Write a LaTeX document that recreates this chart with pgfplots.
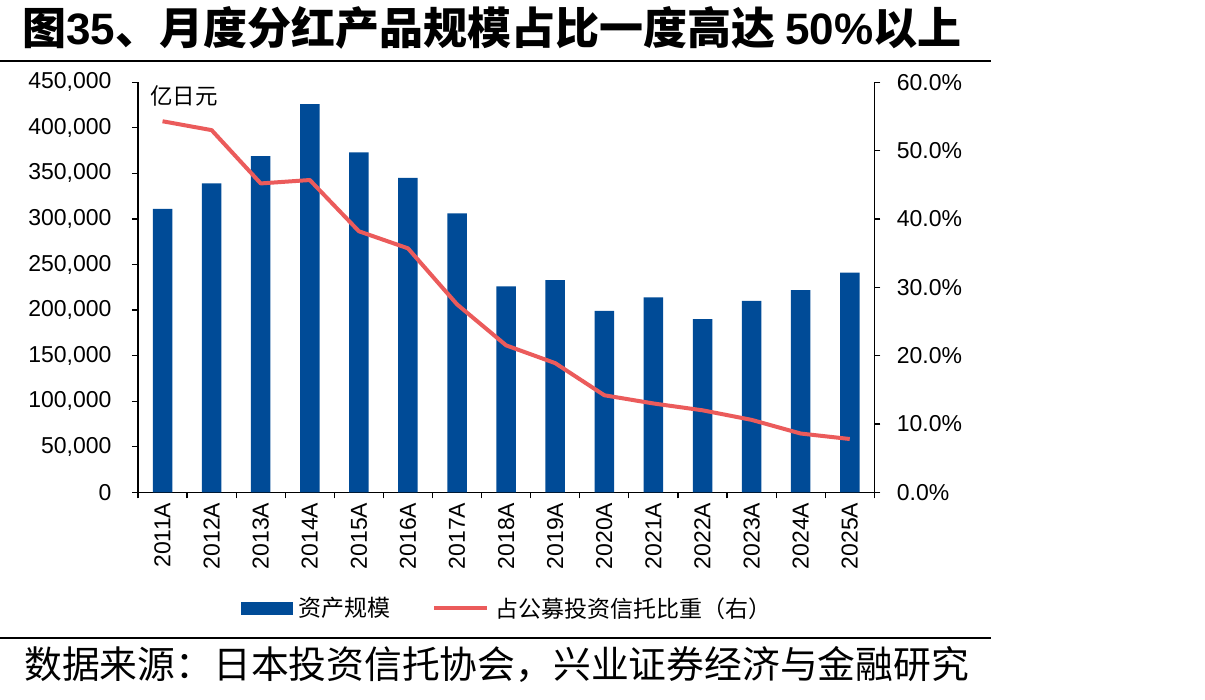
\documentclass[border=0pt]{standalone}
\usepackage{pgfplots}
\pgfplotsset{compat=1.18}
\usepackage{pgfplotstable}
\usepackage{fontspec}
\setmainfont{Liberation Sans}
\newfontfamily\cjk{Noto Sans CJK SC}

\definecolor{barblue}{HTML}{004B97}
\definecolor{linered}{HTML}{EB5B5B}

% Fund assets (100 million yen) and share of public investment trusts (%)
\pgfplotstableread{
idx year  assets share
0   2011A 311000 54.3
1   2012A 339000 53.0
2   2013A 369000 45.2
3   2014A 426000 45.7
4   2015A 373000 38.2
5   2016A 345000 35.7
6   2017A 306000 27.5
7   2018A 226000 21.5
8   2019A 233000 18.9
9   2020A 199000 14.2
10  2021A 214000 13.0
11  2022A 190000 12.0
12  2023A 210000 10.6
13  2024A 222000 8.6
14  2025A 241000 7.8
}\datatable

\newcommand{\tickfont}{\fontsize{23}{27}\selectfont}

\begin{document}
\begin{tikzpicture}[x=1pt,y=1pt]
\useasboundingbox (0,0) rectangle (1205,699);

% title and rules
\node[anchor=base west, inner sep=0pt, font=\cjk\bfseries\fontsize{44}{48}\selectfont]
  at (22,654) {图{\rmfamily\bfseries 35}、月度分红产品规模占比一度高达 {\rmfamily\bfseries 50\%}以上};
\draw[line width=2pt] (0,637.5) -- (991,637.5);
\draw[line width=2pt] (0,61) -- (991,61);
\node[anchor=base west, inner sep=0pt, font=\cjk\fontsize{37.8}{42}\selectfont]
  at (24,20) {数据来源：日本投资信托协会，兴业证券经济与金融研究};

\pgfplotsset{
  base/.style={
    at={(138pt,206.7pt)}, anchor=south west,
    scale only axis, width=736.3pt, height=410pt,
    xmin=-0.5, xmax=14.5,
    ymin=0,
    tick align=outside,
    major tick length=6pt, minor tick length=6pt,
    every tick/.style={black, line width=1.2pt},
    axis line style={black, line width=1.2pt},
    tick label style={font=\tickfont, black},
    /pgf/number format/assume math mode=true,
    clip=false,
  }
}

% bars: assets on the left axis
\begin{axis}[base,
  axis y line*=left, axis x line*=bottom,
  ymax=450000,
  ytick={0,50000,...,450000},
  scaled y ticks=false,
  yticklabel style={xshift=-17pt, /pgf/number format/.cd, fixed, 1000 sep={,}},
  xtick={0,...,14},
  xticklabels from table={\datatable}{year},
  major x tick style={draw=none},
  minor xtick={-0.5,0.5,...,14.5},
  xticklabel style={rotate=90, anchor=east, xshift=-1pt},
]
\addplot[ybar, bar width=19.5pt, fill=barblue, draw=none] table[x=idx, y=assets] {\datatable};
\node[anchor=west, inner sep=0pt, font=\cjk\fontsize{22.5}{26}\selectfont]
  at (axis description cs:0.0163,0.967) {亿日元};
\end{axis}

% line: share on the right axis
\begin{axis}[base,
  axis y line*=right, axis x line=none,
  ymax=60,
  ytick={0,10,...,60},
  yticklabel style={xshift=13pt},
  yticklabel={\pgfmathprintnumber[fixed, fixed zerofill, precision=1]{\tick}\%},
  legend columns=2,
  legend style={at={(axis description cs:0.501,-0.282)}, anchor=center,
    draw=none, fill=none, font=\cjk\fontsize{23}{27}\selectfont,
    /tikz/every odd column/.append style={column sep=4pt},
    /tikz/every even column/.append style={column sep=40pt}},
]
\addlegendimage{legend image code/.code={\fill[barblue] (0pt,-6pt) rectangle (51pt,6pt);}}
\addlegendentry{资产规模}
\addplot[linered, line width=4pt, line join=round,
  legend image code/.code={\draw[linered, line width=4pt] (0pt,0pt) -- (53pt,0pt);}]
  table[x=idx, y=share] {\datatable};
\addlegendentry{占公募投资信托比重（右）}
\end{axis}
\end{tikzpicture}
\end{document}
